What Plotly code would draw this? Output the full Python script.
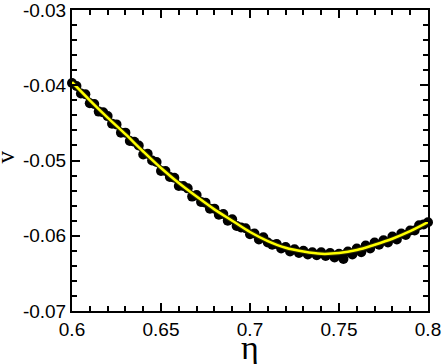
import plotly.graph_objects as go

# fitted curve
fit_eta = [0.60, 0.61, 0.62, 0.63, 0.64, 0.65, 0.66, 0.67, 0.68, 0.69, 0.70,
           0.71, 0.72, 0.73, 0.74, 0.75, 0.76, 0.77, 0.78, 0.79, 0.80]
fit_v = [-0.0396, -0.0420, -0.0443, -0.0465, -0.0488, -0.0510, -0.0530, -0.0548,
         -0.0565, -0.0580, -0.0595, -0.0607, -0.0616, -0.0621, -0.0624, -0.0623,
         -0.0619, -0.0612, -0.0604, -0.0594, -0.0582]

# measured points
dot_eta = [0.6000, 0.6025, 0.6050, 0.6075, 0.6100, 0.6125, 0.6150, 0.6175, 0.6200, 0.6225,
           0.6250, 0.6275, 0.6300, 0.6325, 0.6350, 0.6375, 0.6400, 0.6425, 0.6450, 0.6475,
           0.6500, 0.6525, 0.6550, 0.6575, 0.6600, 0.6625, 0.6650, 0.6675, 0.6700, 0.6725,
           0.6750, 0.6775, 0.6800, 0.6825, 0.6850, 0.6875, 0.6900, 0.6925, 0.6950, 0.6975,
           0.7000, 0.7025, 0.7050, 0.7075, 0.7100, 0.7125, 0.7150, 0.7175, 0.7200, 0.7225,
           0.7250, 0.7275, 0.7300, 0.7325, 0.7350, 0.7375, 0.7400, 0.7425, 0.7450, 0.7475,
           0.7500, 0.7525, 0.7550, 0.7575, 0.7600, 0.7625, 0.7650, 0.7675, 0.7700, 0.7725,
           0.7750, 0.7775, 0.7800, 0.7825, 0.7850, 0.7875, 0.7900, 0.7925, 0.7950, 0.7975,
           0.8000]
dot_v = [-0.0397, -0.0401, -0.0411, -0.0412, -0.0424, -0.0425, -0.0435, -0.0436, -0.0441, -0.0451,
         -0.0452, -0.0463, -0.0463, -0.0474, -0.0475, -0.0480, -0.0492, -0.0491, -0.0500, -0.0502,
         -0.0514, -0.0514, -0.0522, -0.0523, -0.0534, -0.0534, -0.0537, -0.0548, -0.0546, -0.0555,
         -0.0556, -0.0564, -0.0564, -0.0572, -0.0571, -0.0580, -0.0578, -0.0587, -0.0589, -0.0590,
         -0.0598, -0.0597, -0.0605, -0.0602, -0.0609, -0.0612, -0.0611, -0.0617, -0.0615, -0.0621,
         -0.0618, -0.0623, -0.0620, -0.0625, -0.0622, -0.0626, -0.0622, -0.0627, -0.0623, -0.0629,
         -0.0624, -0.0631, -0.0621, -0.0625, -0.0617, -0.0622, -0.0613, -0.0617, -0.0609, -0.0612,
         -0.0606, -0.0609, -0.0601, -0.0605, -0.0597, -0.0599, -0.0593, -0.0593, -0.0586, -0.0585,
         -0.0582]

x_ticks = [0.6, 0.65, 0.7, 0.75, 0.8]
y_ticks = [-0.07, -0.06, -0.05, -0.04, -0.03]

fig = go.Figure()

fig.add_trace(go.Scatter(x=dot_eta, y=dot_v, mode='markers',
                         marker=dict(color='black', size=10),
                         cliponaxis=False))
# dark edge under the fit line
fig.add_trace(go.Scatter(x=fit_eta, y=fit_v, mode='lines', line_shape='spline',
                         line=dict(color='rgb(40,40,0)', width=4.5)))
fig.add_trace(go.Scatter(x=fit_eta, y=fit_v, mode='lines', line_shape='spline',
                         line=dict(color='rgb(255,255,0)', width=2.5)))

axis_style = dict(
    showline=True, linecolor='black', linewidth=2, mirror='allticks',
    ticks='inside', ticklen=8, tickwidth=1.5, tickcolor='black',
    showgrid=False, zeroline=False, automargin=False, ticklabeloverflow='allow',
    tickfont=dict(family='Liberation Sans', size=19, color='black'),
)

fig.update_layout(
    width=443, height=364, autosize=False,
    margin=dict(l=72, r=15, t=10, b=53),
    plot_bgcolor='white', paper_bgcolor='white',
    showlegend=False,
    xaxis=dict(range=[0.6, 0.8], tickvals=x_ticks, ticktext=['0.6', '0.65', '0.7', '0.75', '0.8'],
               minor=dict(dtick=0.01, ticks='inside', ticklen=5, tickwidth=1.5, tickcolor='black'),
               **axis_style),
    yaxis=dict(range=[-0.07, -0.03], tickvals=y_ticks,
               ticktext=['-0.07', '-0.06', '-0.05', '-0.04', '-0.03'],
               minor=dict(dtick=0.002, ticks='inside', ticklen=5, tickwidth=1.5, tickcolor='black'),
               **axis_style),
)

# axis titles
fig.add_annotation(xref='paper', yref='paper', x=0.5, y=-0.12, xanchor='center', yanchor='middle',
                   text='η', showarrow=False,
                   font=dict(family='Liberation Serif', size=34, color='black'))
fig.add_annotation(xref='paper', yref='paper', x=-0.188, y=0.51, xanchor='center', yanchor='middle',
                   text='v', textangle=-90, showarrow=False,
                   font=dict(family='Liberation Serif', size=25, color='black'))

fig.write_html("out.html", config={'displayModeBar': False},
               post_script="document.body.style.margin='0';document.body.style.overflow='hidden';")
